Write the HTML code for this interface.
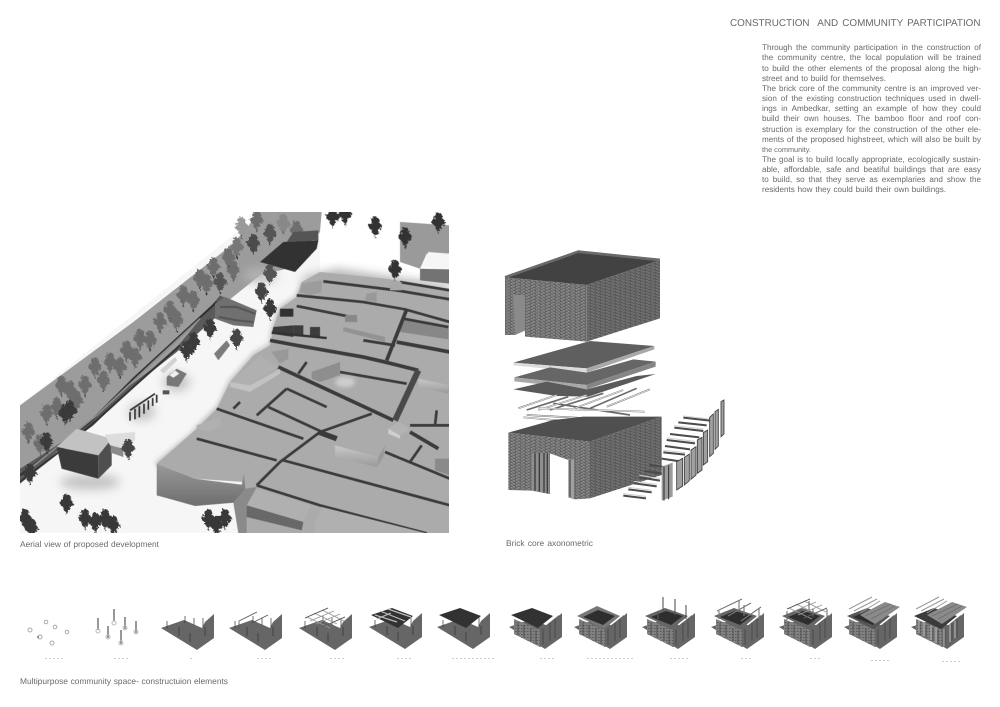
<!DOCTYPE html>
<html><head><meta charset="utf-8"><title>Construction and community participation</title>
<style>html,body{margin:0;padding:0;background:#fff;width:1000px;height:707px;overflow:hidden}svg{display:block;position:absolute;left:0;top:0}
.l{position:absolute;font-family:"Liberation Sans",sans-serif;font-size:8.100px;line-height:10px;color:#6a6a6a;text-align:justify;text-align-last:justify;filter:blur(.3px);text-rendering:geometricPrecision;height:10px}
.c{font-size:8.400px}</style></head>
<body>
<svg width="1000" height="707" viewBox="0 0 1000 707" xmlns="http://www.w3.org/2000/svg">
<defs>
<clipPath id="ac"><rect x="20" y="212" width="429" height="321"/></clipPath>
<filter id="b1" x="-30%" y="-30%" width="160%" height="160%"><feGaussianBlur stdDeviation="14"/></filter>
<filter id="b2" x="-30%" y="-30%" width="160%" height="160%"><feGaussianBlur stdDeviation="6"/></filter>
<filter id="s"><feGaussianBlur stdDeviation="0.35"/></filter>
<filter id="j" x="-20%" y="-20%" width="140%" height="140%"><feTurbulence type="fractalNoise" baseFrequency="0.16" numOctaves="2" seed="4"/><feDisplacementMap in="SourceGraphic" scale="14"/></filter>
<pattern id="brick" width="15" height="9" patternUnits="userSpaceOnUse" patternTransform="skewY(8)"><rect width="15" height="9" fill="#7d7d7d"/><path d="M0 2h8M9 6.500h6M0 6.500h3" stroke="#555" stroke-width="2.500"/><path d="M2 4.500h5M9 1h4" stroke="#a8a8a8" stroke-width="1.500"/></pattern>
<pattern id="brick2" width="15" height="9" patternUnits="userSpaceOnUse" patternTransform="skewY(-18)"><rect width="15" height="9" fill="#6c6c6c"/><path d="M0 2h8M9 6.500h6M0 6.500h3" stroke="#4e4e4e" stroke-width="2.500"/><path d="M2 4.500h5M9 1h4" stroke="#8c8c8c" stroke-width="1.200"/></pattern>
<linearGradient id="wl" x1="0" y1="0" x2="0" y2="1"><stop offset="0" stop-color="#9a9a9a"/><stop offset="1" stop-color="#6e6e6e"/></linearGradient>
<linearGradient id="wc" x1="0" y1="0" x2="0" y2="1"><stop offset="0" stop-color="#c9c9c9"/><stop offset="1" stop-color="#9a9a9a"/></linearGradient>
<g id="t"><path d="M0 30V-10" stroke="#333" stroke-width="3"/><circle cx="0" cy="-22" r="12"/><circle cx="-9" cy="-6" r="11"/><circle cx="9" cy="-5" r="11"/><circle cx="0" cy="10" r="10"/></g>
<g id="tg"><polygon points="-36,-22 -13,-30 5,-22 8,-28 17,-36 17,-12 0,0" fill="#666"/></g>
<g id="tp" stroke="#333" stroke-width=".7"><path d="M-30 -22v-7M-12 -27v-7M-3 -25v-7M6 -23v-9M-18 -14v-9M-7 -8v-9M8 -14v-9"/></g>
<g id="tb" stroke="#555" stroke-width=".8" fill="none"><path d="M-26 -29L-8 -38M-11 -28L3 -35M-26 -29v8"/></g>
<g id="tgr" stroke="#999" stroke-width=".9" fill="none"><path d="M-30 -32L-7 -42M-25 -29L-1 -39M-19 -26L5 -36M-13 -23L10 -33M-28 -33L-5 -22M-21 -37L2 -26M-13 -40L9 -29"/><path d="M-30 -32L-7 -42M-13 -23L10 -33" stroke="#555"/></g>
<pattern id="thb" width="3" height="3" patternUnits="userSpaceOnUse"><rect width="3" height="3" fill="#808080"/><rect width="1.500" height="1" fill="#5a5a5a"/></pattern>
<g id="th"><polygon points="-31,-30 -5,-19 -5,-2 -31,-15" fill="url(#thb)"/><polygon points="-5,-19 14,-34 14,-11 -5,-2" fill="#666"/><path d="M-27 -26v12M-21 -24v12M-14 -21v13M-9 -19v14M-2 -20v16M5 -26v18M10 -30v19" stroke="#4a4a4a" stroke-width=".9"/></g>
<g id="trf"><polygon points="-34,-34 -13,-41 8,-33 -7,-21" fill="#333"/></g>
<g id="tsl"><polygon points="-20,-34 5,-47 20,-42 -5,-25" fill="#8a8a8a"/><path d="M-15 -33L11 -45M-9 -30L15 -43" stroke="#6e6e6e" stroke-width=".8"/></g>
</defs>

<!-- Aerial view -->
<g clip-path="url(#ac)"><g filter="url(#s)">
<rect x="20" y="212" width="429" height="321" fill="#f6f6f6"/>
<polygon points="20,212 262,212 20,405" fill="#fff"/>
<g transform="translate(20,212) scale(.33333)">
 <rect x="900" y="0" width="400" height="200" fill="#fff"/>
 <!-- embankment -->
 <polygon points="0,580 340,330 640,95 720,0 905,0 900,60 800,170 720,190 620,270 470,420 330,530 220,640 110,720 0,810" fill="#9c9c9c"/>
 <g filter="url(#j)" fill="#6e6e6e">
  <use href="#t" x="25" y="665"/><use href="#t" x="80" y="610"/><use href="#t" x="125" y="525"/><use href="#t" x="195" y="525"/><use href="#t" x="225" y="470"/><use href="#t" x="270" y="455"/><use href="#t" x="320" y="420"/><use href="#t" x="360" y="385"/><use href="#t" x="420" y="335"/><use href="#t" x="450" y="300"/><use href="#t" x="490" y="255"/><use href="#t" x="540" y="205"/><use href="#t" x="580" y="170"/><use href="#t" x="625" y="140"/><use href="#t" x="665" y="50" fill="#9a9a9a"/><use href="#t" x="710" y="30"/><use href="#t" x="750" y="70" fill="#555"/><use href="#t" x="790" y="40" fill="#888"/><use href="#t" x="830" y="60"/><use href="#t" x="700" y="100" fill="#4c4c4c"/><use href="#t" x="650" y="110" fill="#777"/>
  <use href="#t" x="60" y="700"/><use href="#t" x="170" y="570"/><use href="#t" x="250" y="510"/><use href="#t" x="390" y="390"/><use href="#t" x="520" y="270"/><use href="#t" x="600" y="215" fill="#555"/><use href="#t" x="110" y="590"/><use href="#t" x="150" y="540"/><use href="#t" x="300" y="470"/><use href="#t" x="345" y="440"/><use href="#t" x="470" y="330"/><use href="#t" x="560" y="220"/><use href="#t" x="640" y="180"/>
 </g>
 <!-- road band -->
 <polygon points="0,770 110,700 200,640 330,520 450,430 600,250 640,270 470,420 330,530 220,640 110,720 0,815" fill="#5a5a5a"/>
 <path d="M0 790L210 630L340 500L590 270" stroke="#2f2f2f" stroke-width="6" fill="none"/>
 <path d="M0 810L110 725L230 625L340 525L480 400" stroke="#333" stroke-width="6" fill="none"/>
 <path d="M30 770L230 610L400 450L540 320" stroke="#8c8c8c" stroke-width="5" fill="none"/>
 <g filter="url(#j)" fill="#3a3a3a">
  <use href="#t" x="150" y="600"/><use href="#t" x="135" y="610"/><use href="#t" x="80" y="695"/><use href="#t" x="500" y="420"/><use href="#t" x="520" y="395"/><use href="#t" x="30" y="790"/><use href="#t" x="570" y="355"/><use href="#t" x="650" y="385" fill="#444"/>
 </g>
 <!-- arch -->
 <polygon points="585,275 615,255 710,295 700,345 640,340 585,320" fill="#707070"/>
 <path d="M600 285L650 285L705 305M595 315L650 325L700 330" stroke="#555" stroke-width="6" fill="none"/>
 <!-- soft ground shading -->
 <g filter="url(#b1)" fill="#b8b8b8" opacity=".8">
  <ellipse cx="210" cy="810" rx="90" ry="24"/><ellipse cx="365" cy="600" rx="40" ry="26"/><ellipse cx="470" cy="510" rx="40" ry="28"/>
  <ellipse cx="720" cy="190" rx="50" ry="24"/>
 </g>
 <g filter="url(#b2)" fill="#c8c8c8"><path d="M520 650L590 580L625 505L700 420L745 395L755 340L775 285L825 250L845 205L855 225L835 265L790 300L770 350L760 410L710 440L640 520L600 600L540 670Z"/><path d="M405 750L525 650L535 665L415 770Z"/></g>
 <path d="M850 195L950 170L1120 195L1290 220L1290 240L850 220Z" fill="#b5b5b5" filter="url(#b1)"/>
 <!-- block base -->
 <polygon points="845,210 900,180 1100,200 1290,235 1290,964 1220,964 885,964 860,964 680,964 670,880 640,870 670,810 525,800 410,755 530,650 590,590 630,510 700,430 750,400 760,345 780,290 830,255" fill="#ababab"/>
 <polygon points="410,755 525,800 665,818 672,785 676,830 640,872 525,882 410,850" fill="url(#wl)"/>
 <polygon points="640,872 676,830 710,825 680,880 680,964 655,964" fill="#8a8a8a"/>
 <polygon points="1150,322 1285,345 1285,382 1140,360" fill="#878787"/>
 <!-- lanes -->
 <g fill="none" stroke="#3a3a3a" stroke-width="8">
  <path d="M910 208L1130 235L1290 262M1140 210L1290 235M830 250L1030 270L1155 292L1290 330M830 282L980 312M1150 320L1285 345M1030 385L1125 400M860 450L835 485M960 480L1160 515M800 530L710 610M800 530L920 585M745 585L950 680M590 590L850 680M1055 605L900 660L780 750L710 820M530 680L770 745M790 745L1290 880M710 820L900 880L1220 964M1170 640L1290 640M1250 595L1245 640M1205 700L1170 750M1095 720L1290 800M640 590L660 570"/>
  <path d="M1160 292L1100 445M750 385L830 400L1030 435L1095 450L1195 475M1130 390L1290 420M775 465L1120 625M1170 660L1255 710" stroke-width="11"/>
  <path d="M1195 475L1125 625" stroke="#4a4a4a" stroke-width="18"/>
  <path d="M895 660L950 680" stroke-width="16"/>
 </g>
 <!-- raised blocks -->
 <polygon points="630,510 720,430 775,465 690,520" fill="#b0b0b0"/><polygon points="630,510 690,520 780,470 780,485 690,540 630,525" fill="#c2c2c2"/>
 <polygon points="945,700 1020,640 1095,700 1075,735" fill="#ababab"/><polygon points="945,700 1075,735 1070,765 945,735" fill="url(#wc)"/><polygon points="1075,735 1095,700 1090,735 1070,765" fill="#999"/>
 <polygon points="1105,650 1135,630 1170,650 1140,670" fill="#b3b3b3"/><polygon points="1105,650 1140,670 1140,680 1105,665" fill="#cfcfcf"/>
 <polygon points="1195,500 1290,520 1285,545 1195,525" fill="url(#wc)"/>
 <polygon points="680,880 710,830 875,880 850,930" fill="#b0b0b0"/><polygon points="680,880 850,930 845,955 680,915" fill="#686868"/>
 <polygon points="885,930 905,885 1220,964 885,964" fill="#b0b0b0"/>
 <polygon points="845,215 905,205 905,240 870,250 840,240" fill="#9c9c9c"/>
 <rect x="780" y="290" width="40" height="24" fill="#333"/>
 <polygon points="760,345 820,340 820,375 755,365" fill="#3a3a3a"/><polygon points="820,340 850,340 850,370 820,370" fill="#3c3c3c"/><polygon points="870,345 900,345 900,375 870,372" fill="#3c3c3c"/><path d="M755 362L920 378" stroke="#333" stroke-width="7"/>
 <polygon points="975,310 1010,308 1012,330 975,330" fill="#888"/><polygon points="970,345 1095,375 1095,390 970,358" fill="#939393"/>
 <polygon points="755,420 805,410 805,440 780,455" fill="#999"/>
 <polygon points="875,480 960,450 960,490 900,510 875,500" fill="#8e8e8e"/>
 <polygon points="1040,245 1070,240 1070,270 1035,265" fill="#999"/><polygon points="1110,210 1145,210 1145,235 1110,235" fill="#a8a8a8"/>
 <polygon points="530,640 600,615 605,640 570,660 530,650" fill="#b0b0b0"/>
 <polygon points="1245,740 1290,740 1290,790 1245,775" fill="#8a8a8a"/>
 <ellipse cx="975" cy="510" rx="30" ry="16" fill="#cfcfcf" filter="url(#b2)"/>
 <!-- building and small structures -->
 <polygon points="110,705 170,650 275,680 235,730" fill="#c2c2c2"/>
 <polygon points="110,705 235,730 235,800 125,770" fill="#3a3a3a"/>
 <polygon points="235,730 275,680 275,760 235,800" fill="#505050"/>
 <polygon points="255,668 345,660 345,685 310,710 270,700" fill="#ddd"/><polygon points="272,700 310,710 310,735 272,722" fill="#8a8a8a"/>
 <g stroke="#333" stroke-width="5" fill="none"><path d="M330 595L405 545M330 600v26M345 590v32M358 582v34M372 575v30M385 565v28M398 558v24M410 548v24"/></g>
 <polygon points="420,475 465,435 472,445 430,485" fill="#d2d2d2"/><polygon points="440,495 470,470 500,485 475,525 440,520" fill="#777"/><polygon points="448,490 465,475 478,485 460,497" fill="#eee"/>
 <polygon points="582,425 620,385 630,400 595,445" fill="#7c7c7c"/><rect x="428" y="535" width="20" height="12" fill="#555"/>
 <!-- dark house -->
 <polygon points="720,150 790,90 895,85 890,110 825,180" fill="#333"/><polygon points="820,60 895,55 895,85 800,90" fill="#555"/>
 <!-- trees -->
 <g filter="url(#j)" fill="#383838">
  <use href="#t" x="140" y="880"/><use href="#t" x="195" y="925"/><use href="#t" x="225" y="935"/><use href="#t" x="255" y="925"/><use href="#t" x="280" y="945"/><use href="#t" x="15" y="925"/><use href="#t" x="35" y="955"/><use href="#t" x="565" y="925"/><use href="#t" x="590" y="945"/><use href="#t" x="615" y="925"/><use href="#t" x="725" y="245" fill="#444"/><use href="#t" x="750" y="295"/><use href="#t" x="325" y="715" fill="#444"/><use href="#t" x="750" y="190" fill="#555"/>
 </g>
 <!-- top right -->
 <polygon points="1140,30 1290,40 1290,125 1220,125 1200,170 1140,150" fill="#9a9a9a"/>
 <polygon points="1205,165 1225,120 1290,125 1290,170" fill="#f6f6f6"/><polygon points="1200,170 1290,172 1290,215 1200,205" fill="#737373"/>
 <g filter="url(#j)" fill="#333">
  <use href="#t" x="1155" y="80"/><use href="#t" x="1255" y="35"/><use href="#t" x="1065" y="48"/><use href="#t" x="938" y="20"/><use href="#t" x="975" y="12"/><use href="#t" x="1125" y="178"/>
 </g>
</g>
</g></g>

<!-- Axonometric -->
<g filter="url(#s)" transform="translate(490,240) scale(.33333)">
 <polygon points="45,112 265,35 510,60 290,135" fill="#434343"/>
 <path d="M45 112L265 35L510 60" stroke="#6a6a6a" stroke-width="8" fill="none"/>
 <polygon points="45,112 290,135 290,305 105,290 105,270 75,285 45,285" fill="url(#brick)"/>
 <polygon points="290,135 510,60 510,235 290,305" fill="url(#brick2)"/>
 <polygon points="70,165 105,165 105,272 75,285" fill="#8a8a8a"/>
 <polygon points="70,368 300,303 493,318 290,385" fill="#5e5e5e"/>
 <polygon points="70,368 290,385 290,398 70,376" fill="#dcdcdc"/>
 <polygon points="290,385 493,318 493,328 290,398" fill="#a8a8a8"/>
 <polygon points="73,412 180,382 290,398 430,358 497,365 290,435" fill="#666"/>
 <polygon points="73,412 290,435 290,448 73,424" fill="#a8a8a8"/>
 <polygon points="290,435 497,365 497,380 290,448" fill="#858585"/>
 <polygon points="70,448 170,425 290,448 440,408 497,402 295,470 200,468" fill="#5a5a5a"/>
 <g fill="none" stroke="#6a6a6a" stroke-width="5">
  <path d="M85 505L200 465M110 510L235 470M145 510L290 465M180 510L340 460M240 510L400 450M300 505L440 445M350 500L480 448"/>
  <path d="M145 505L465 515M110 525L385 540M100 532L340 553M190 490L420 525"/>
 </g>
 <g fill="none" stroke="#eee" stroke-width="2.500">
  <path d="M85 505L200 465M145 510L290 465M240 510L400 450M350 500L480 448"/>
  <path d="M145 505L465 515M110 525L385 540M100 532L340 553"/>
 </g>
 <polygon points="55,578 190,540 280,530 515,530 300,605" fill="#505050"/>
 <polygon points="55,578 300,605 300,775 255,778 235,770 235,660 180,640 180,762 125,752 55,750" fill="url(#brick)"/>
 <polygon points="300,605 515,530 515,705 300,775" fill="url(#brick2)"/>
 <polygon points="125,640 178,640 178,762 125,752" fill="#8e8e8e"/>
 <path d="M135 640v112M148 640v115M162 640v118M172 640v120" stroke="#3a3a3a" stroke-width="4"/>
 <polygon points="235,658 252,658 252,778 235,772" fill="#a0a0a0"/>
 <path d="M240 660v112" stroke="#333" stroke-width="3"/>
 <g stroke="#4c4c4c" stroke-width="6"><path d="M400 767L468 775M415 748L485 757M432 730L500 739M448 712L510 722M463 693L525 702M478 675L545 684M515 656L570 664M520 637L585 644M525 618L600 628M530 600L615 610M540 582L628 592M553 563L640 573M565 547L650 556M580 533L660 542"/></g>
 <g stroke="#d0d0d0" stroke-width="3"><path d="M400 761L468 769M415 742L485 751M432 724L500 733M448 706L510 716M520 631L585 638M530 594L615 604M553 557L640 567M580 528L660 537"/></g>
 <polygon points="515,680 548,668 548,770 515,782" fill="#9b9b9b"/>
 <g stroke="#2f2f2f" stroke-width="3"><path d="M522 680V782M536 676V778"/></g>
 <g fill="#a0a0a0" stroke="#3a3a3a" stroke-width="2.500">
  <polygon points="560,665 578,655 578,738 560,750"/><polygon points="583,652 598,642 598,722 583,735"/><polygon points="603,630 618,620 618,705 603,718"/><polygon points="622,600 636,592 636,690 622,700"/><polygon points="640,578 653,570 653,665 640,675"/><polygon points="659,532 670,522 670,640 659,650"/><polygon points="675,515 685,508 685,618 675,628"/><polygon points="693,485 702,480 702,582 693,590"/>
 </g>
</g>

<!-- Thumbnails -->
<g filter="url(#s)">
 <g fill="none" stroke="#aaa" stroke-width="1"><circle cx="30" cy="630" r="2"/><circle cx="46" cy="622" r="1.800"/><circle cx="55" cy="627" r="1.800"/><circle cx="67" cy="632" r="1.800"/><circle cx="40" cy="637" r="2"/><circle cx="52" cy="643" r="2"/></g>
 <circle cx="38" cy="637" r=".8" fill="#333"/>
 <g stroke="#333" stroke-width="1"><path d="M98 618v12M114 609v12M125 617v12M136 621v12M108 626v12M121 630v14"/></g>
 <g fill="none" stroke="#bbb" stroke-width="1"><circle cx="98" cy="631" r="2"/><circle cx="114" cy="623" r="2"/><circle cx="125" cy="628" r="2"/><circle cx="136" cy="632" r="2"/><circle cx="108" cy="637" r="2"/><circle cx="121" cy="643" r="2"/></g>
 <g transform="translate(197,650)"><use href="#tg"/><use href="#tp"/></g>
 <g transform="translate(265,650)"><use href="#tg"/><use href="#tp"/><use href="#tb"/></g>
 <g transform="translate(335,650)"><use href="#tg"/><use href="#tp"/><use href="#tgr"/></g>
 <g transform="translate(405,649)"><use href="#tg"/><use href="#tp"/><use href="#trf"/><path d="M-30 -34L-8 -27M-25 -38L0 -28M-17 -40L6 -32M-28 -30L-14 -36" stroke="#bbb" stroke-width="1.200"/></g>
 <g transform="translate(473,649)"><use href="#tg"/><use href="#tp"/><use href="#trf"/></g>
 <g transform="translate(545,649)"><use href="#tg"/><use href="#th"/><use href="#trf"/></g>
 <g transform="translate(610,649)"><use href="#tg"/><use href="#th"/><polygon points="-33,-33 -13,-43 10,-33 -6,-20" fill="#777"/><polygon points="-27,-32 -12,-39 5,-33 -7,-24" fill="#2f2f2f"/></g>
 <g transform="translate(678,649)"><use href="#tg"/><use href="#th"/><polygon points="-33,-33 -13,-41 10,-33 -6,-20" fill="#666"/><polygon points="-27,-32 -12,-38 5,-33 -7,-24" fill="#2f2f2f"/><path d="M-15 -38V-52M-3 -34V-50M8 -30V-44M-20 -30v-7" stroke="#555" stroke-width="1.100"/></g>
 <g transform="translate(747,649)"><use href="#tg"/><use href="#th"/><polygon points="-33,-33 -13,-41 10,-33 -6,-20" fill="#666"/><polygon points="-27,-32 -12,-38 5,-33 -7,-24" fill="#2f2f2f"/><path d="M-30 -38L-5 -50M-19 -33L4 -46M-6 -28L14 -42M-28 -38v8M-8 -49v10M-3 -33v-11M12 -41v11" stroke="#777" stroke-width="1.100" fill="none"/></g>
 <g transform="translate(815,649)"><use href="#tg"/><use href="#th"/><polygon points="-33,-33 -13,-41 10,-33 -6,-20" fill="#666"/><polygon points="-27,-32 -12,-38 5,-33 -7,-24" fill="#2f2f2f"/><use href="#tgr" transform="translate(2,-8)"/><path d="M-28 -38v9M-6 -48v9M12 -40v9M-2 -32v-8" stroke="#666" stroke-width="1"/></g>
 <g transform="translate(880,649)"><use href="#tg"/><use href="#th"/><polygon points="-33,-33 -13,-41 10,-33 -6,-20" fill="#555"/><polygon points="-27,-32 -12,-38 5,-33 -7,-24" fill="#2f2f2f"/><use href="#tsl"/><path d="M-31 -40L-8 -52M-26 -38L-3 -50M-20 -36L0 -48" stroke="#999" stroke-width="1"/></g>
 <g transform="translate(947,649)"><use href="#tg"/><use href="#th"/><polygon points="-33,-33 -13,-41 10,-33 -6,-20" fill="#3a3a3a"/><use href="#tsl"/><path d="M-31 -40L-8 -52M-26 -38L-3 -50M-20 -36L0 -48" stroke="#999" stroke-width="1"/><path d="M-28 -28v12M-23 -27v14M-16 -24v15M-11 -22v16M-3 -20v17M3 -25v18M8 -28v17" stroke="#aaa" stroke-width="1.300"/></g>
 <g stroke="#ccc" stroke-width="1" stroke-dasharray="2 2" fill="none">
  <path d="M45 658.500h18M114 658.500h14M190 658.500h2M257 658.500h14M330 658.500h14M397 658.500h16M452 658.500h44M540 658.500h14M587 658.500h46M670 658.500h18M741 658.500h12M810 658.500h12M871 660.500h20M942 661.500h20"/>
 </g>
</g>
</svg>
<div class="l" style="left:730px;top:18px;width:250.500px;font-size:9.900px;line-height:12px;height:12px;color:#666">CONSTRUCTION&nbsp; AND COMMUNITY PARTICIPATION</div>
<div class="l" style="left:762px;top:43.300px;width:219px">Through the community participation in the construction of</div>
<div class="l" style="left:762px;top:53.400px;width:219px">the community centre, the local population will be trained</div>
<div class="l" style="left:762px;top:63.600px;width:219px">to build the other elements of the proposal along the high-</div>
<div class="l" style="left:762px;top:73.800px;width:124px">street and to build for themselves.</div>
<div class="l" style="left:762px;top:83.900px;width:219px">The brick core of the community centre is an improved ver-</div>
<div class="l" style="left:762px;top:94.100px;width:219px">sion of the existing construction techniques used in dwell-</div>
<div class="l" style="left:762px;top:104.200px;width:219px">ings in Ambedkar, setting an example of how they could</div>
<div class="l" style="left:762px;top:114.300px;width:219px">build their own houses. The bamboo floor and roof con-</div>
<div class="l" style="left:762px;top:124.500px;width:219px">struction is exemplary for the construction of the other ele-</div>
<div class="l" style="left:762px;top:134.600px;width:219px">ments of the proposed highstreet, which will also be built by</div>
<div class="l" style="left:762px;top:144.800px;width:60px;font-size:7.300px;text-align:left;text-align-last:left;white-space:nowrap">the community.</div>
<div class="l" style="left:762px;top:154.900px;width:219px">The goal is to build locally appropriate, ecologically sustain-</div>
<div class="l" style="left:762px;top:165.100px;width:219px">able, affordable, safe and beatiful buildings that are easy</div>
<div class="l" style="left:762px;top:175.200px;width:219px">to build, so that they serve as exemplaries and show the</div>
<div class="l" style="left:762px;top:185.400px;width:184px">residents how they could build their own buildings.</div>
<div class="l c" style="left:20px;top:539px;width:139px">Aerial view of proposed development</div>
<div class="l c" style="left:506px;top:538px;width:87px">Brick core axonometric</div>
<div class="l c" style="left:20px;top:676px;width:208px">Multipurpose community space- constructuion elements</div>
</body></html>
